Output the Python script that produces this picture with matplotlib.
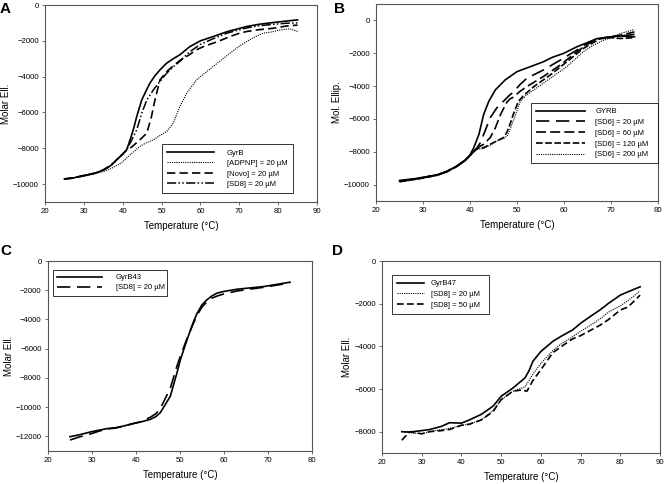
import matplotlib
matplotlib.use("Agg")
import matplotlib.pyplot as plt

plt.rcParams['font.family'] = ['Liberation Sans', 'DejaVu Sans']

# ---------------- Panel A ----------------
a_gyrb_t = [25, 27, 29, 30.7, 33, 35, 37, 38.4, 40, 41, 41.9, 42.8, 43.6, 44.9, 46, 47, 48.3, 49.6, 51.3, 53, 54.7, 57.3, 60, 63.3, 67, 71.9, 75, 78.7, 82, 85]
a_gyrb_v = [-9710, -9680, -9560, -9490, -9380, -9210, -8950, -8650, -8320, -8090, -7530, -6900, -6230, -5300, -4800, -4360, -3950, -3620, -3250, -3000, -2780, -2320, -2000, -1760, -1480, -1200, -1080, -980, -900, -830]
a_adp_t = [25, 27, 29, 31, 33, 35, 37, 39, 40, 41.9, 44.4, 46, 47.9, 49.5, 51.3, 53, 54.7, 56.5, 59, 61, 63.3, 65.5, 67.6, 70, 71.9, 74, 76.2, 78.5, 80.5, 83, 85]
a_adp_v = [-9720, -9650, -9600, -9520, -9420, -9300, -9130, -8900, -8750, -8370, -7900, -7700, -7530, -7300, -7070, -6600, -5670, -4920, -4180, -3820, -3430, -3050, -2690, -2300, -2040, -1780, -1570, -1500, -1390, -1330, -1480]
a_novo_t = [25, 27, 29, 30.7, 33, 35, 37, 38.4, 40, 41, 41.9, 43, 44.4, 46.2, 47.4, 48.3, 49.6, 51.3, 53, 54.7, 57, 59, 61, 63.3, 65.5, 67.6, 70, 71.9, 75, 78.7, 82, 85]
a_novo_v = [-9710, -9650, -9580, -9490, -9380, -9210, -8950, -8650, -8320, -8100, -8000, -7800, -7530, -7160, -6230, -5300, -4180, -3720, -3400, -3100, -2800, -2500, -2300, -2130, -1950, -1760, -1580, -1480, -1380, -1300, -1180, -1120]
a_sd8_t = [25, 27, 29, 30.7, 33, 35, 37, 38.4, 40, 41, 41.9, 43.6, 44.9, 46.2, 47.9, 49.6, 51.3, 53, 54.7, 57, 60, 63.3, 67, 71.9, 75, 78.7, 82, 85]
a_sd8_v = [-9720, -9660, -9580, -9500, -9390, -9220, -8960, -8660, -8330, -8100, -7720, -6970, -6040, -5300, -4740, -4270, -3810, -3450, -3150, -2650, -2200, -1880, -1560, -1280, -1160, -1080, -1020, -1000]

# ---------------- Panel B ----------------
b_gyrb_t = [25, 28, 30, 33, 35, 37, 39, 40, 40.8, 41.9, 42.9, 44, 45.4, 47.5, 50, 53, 55.6, 57.5, 59.9, 62.7, 65, 67, 70, 72, 75]
b_gyrb_v = [-9750, -9650, -9560, -9400, -9200, -8900, -8500, -8200, -7750, -6940, -5730, -4930, -4230, -3620, -3120, -2800, -2520, -2250, -2010, -1610, -1350, -1110, -1000, -950, -1000]
b_s20_t = [25, 28, 30, 33, 35, 37, 39, 40, 41.5, 42.2, 43.2, 44.3, 45.7, 47.1, 48.5, 49.2, 50.6, 52.1, 55.6, 59.2, 62.7, 65, 67, 70, 72, 75]
b_s20_v = [-9780, -9660, -9570, -9410, -9210, -8910, -8510, -8210, -7760, -7450, -6740, -5930, -5330, -4930, -4530, -4380, -3920, -3520, -3020, -2420, -1810, -1400, -1110, -1000, -950, -850]
b_s60_t = [25, 28, 30, 33, 35, 37, 39, 40, 41.5, 42.9, 44.3, 45.4, 46.5, 47.8, 48.5, 49.2, 50.6, 52.1, 55.6, 59.2, 62.7, 65, 67, 70, 72, 75]
b_s60_v = [-9800, -9680, -9580, -9420, -9220, -8920, -8520, -8220, -7780, -7540, -7140, -6540, -5730, -5000, -4780, -4680, -4330, -4030, -3420, -2720, -1910, -1450, -1150, -1000, -900, -700]
b_s120_t = [25, 28, 30, 33, 35, 37, 39, 40, 41.5, 42.9, 44.3, 45.7, 47.1, 47.8, 48.5, 49.2, 50.3, 51.5, 53.6, 57.1, 60.6, 64.1, 67.7, 70, 72, 75]
b_s120_v = [-9820, -9690, -9600, -9430, -9230, -8930, -8530, -8230, -7800, -7750, -7540, -7340, -7140, -6840, -6340, -5730, -4930, -4550, -4030, -3320, -2520, -1710, -1110, -1050, -1100, -1050]
b_s200_t = [25, 28, 30, 33, 35, 37, 39, 40, 41.5, 42.9, 44.3, 45.7, 47.1, 48, 48.7, 49.5, 50.7, 52, 53.6, 57.1, 60.6, 64.1, 66, 68.4, 70, 72, 75]
b_s200_v = [-9850, -9720, -9620, -9450, -9250, -8950, -8550, -8250, -7850, -7800, -7600, -7350, -7200, -7000, -6500, -5900, -4930, -4550, -4230, -3520, -2820, -1910, -1550, -1210, -1050, -800, -550]

# ---------------- Panel C ----------------
c_gyr_t = [25, 27, 29.6, 31.5, 33.4, 35.5, 37.2, 39, 41, 43.2, 44.5, 45.5, 46.5, 47.8, 49.3, 50.1, 51.6, 53, 53.9, 55, 56.1, 57.2, 58.4, 60, 63, 66, 69, 72, 75]
c_gyr_v = [-12020, -11900, -11700, -11580, -11470, -11400, -11290, -11150, -11020, -10840, -10650, -10380, -9900, -9250, -7660, -6750, -5390, -4200, -3570, -3000, -2660, -2400, -2200, -2080, -1930, -1840, -1750, -1600, -1450]
c_sd8_t = [25, 27, 30, 31.5, 33.4, 35.5, 37.2, 39, 41, 43.2, 44.5, 45.5, 46.5, 47.8, 49.3, 50.1, 51.6, 53, 53.9, 55, 56.1, 57.2, 58.4, 60, 63, 66, 69, 72, 75]
c_sd8_v = [-12250, -12050, -11800, -11650, -11500, -11420, -11300, -11150, -11000, -10700, -10450, -10100, -9500, -8700, -7200, -6500, -5300, -4300, -3700, -3150, -2800, -2550, -2400, -2250, -2050, -1920, -1800, -1650, -1500]

# ---------------- Panel D ----------------
d_gyr_t = [25, 27, 30, 32, 35, 37, 40, 42, 45, 48, 50, 53, 56, 57, 58, 60, 63, 65, 68, 70, 73, 75, 77, 80, 82, 85]
d_gyr_v = [-8000, -8020, -7950, -7900, -7750, -7580, -7600, -7450, -7190, -6800, -6340, -5950, -5480, -5150, -4700, -4240, -3770, -3540, -3230, -2920, -2530, -2280, -1990, -1600, -1440, -1210]
d_s20_t = [25, 27, 30, 32, 35, 37, 40, 42, 45, 48, 50, 53, 56, 58, 60, 63, 65, 68, 70, 73, 75, 77, 80, 82, 85]
d_s20_v = [-8000, -8050, -8100, -8000, -7900, -7850, -7700, -7650, -7450, -7000, -6500, -6100, -5900, -5300, -4800, -4200, -3900, -3550, -3300, -2950, -2700, -2400, -2100, -1850, -1400]
d_s50_t = [25, 26, 27, 30, 32, 35, 37, 40, 42, 45, 48, 50, 53, 55, 56.5, 58, 60, 63, 66, 68, 70, 73, 75, 77, 80, 82, 85]
d_s50_v = [-8400, -8200, -8000, -8100, -8000, -7950, -7900, -7700, -7650, -7450, -7050, -6500, -6100, -6050, -6100, -5600, -5100, -4300, -3900, -3650, -3500, -3200, -3000, -2750, -2300, -2150, -1600]

FS_TICK = 5.6
FS_LAB = 7
FS_LEG = 5.5
SPINE = '#555555'


def style(ax, xlim, ylim, yticks, xticks, ylabel):
    ax.set_xlim(*xlim)
    ax.set_ylim(*ylim)
    ax.set_xticks(xticks)
    ax.set_yticks(yticks)
    ax.tick_params(direction='out', length=2.5, width=0.6, labelsize=FS_TICK,
                   top=False, right=False, pad=2, color=SPINE)
    for s in ax.spines.values():
        s.set_color(SPINE)
        s.set_linewidth(0.8)
    ax.set_xlabel('Temperature (\u00b0C)', fontsize=FS_LAB, labelpad=4)
    ax.set_ylabel(ylabel, fontsize=FS_LAB, labelpad=1.5)


def frame(leg):
    leg.get_frame().set_edgecolor('black')
    leg.get_frame().set_linewidth(0.7)


fig = plt.figure(figsize=(6.64, 4.84), dpi=100)
W, H = 664.0, 484.0


def axes_px(l, t, r, b):
    return fig.add_axes([l / W, 1 - b / H, (r - l) / W, (b - t) / H])


solid = dict(color='black', lw=1.2, ls='-')
dot = dict(color='black', lw=0.8, ls=(0, (1, 1)))

# A
axA = axes_px(45, 5, 317, 202)
axA.plot(a_gyrb_t, a_gyrb_v, label='GyrB', **solid)
axA.plot(a_adp_t, a_adp_v, label='[ADPNP] = 20 \u00b5M', **dot)
axA.plot(a_novo_t, a_novo_v, label='[Novo] = 20 \u00b5M', color='black', lw=1.2, ls=(0, (5, 2.5)))
axA.plot(a_sd8_t, a_sd8_v, label='[SD8] = 20 \u00b5M', color='black', lw=1.1, ls=(0, (6, 1.5, 1, 1.5, 1, 1.5)))
style(axA, (20, 90), (-11000, 0), range(-10000, 1, 2000), range(20, 91, 10), 'Molar Ell.')
legA = axA.legend(loc='lower left', bbox_to_anchor=(0.43, 0.046, 0.482, 0), mode='expand',
                  fontsize=FS_LEG, frameon=True, fancybox=False, handlelength=6.2,
                  handletextpad=1.6, labelspacing=0.4, borderpad=0.65, borderaxespad=0)
frame(legA)

# B
axB = axes_px(376, 4, 658, 201)
axB.plot(b_gyrb_t, b_gyrb_v, label='GYRB', **solid)
axB.plot(b_s20_t, b_s20_v, label='[SD6] = 20 \u00b5M', color='black', lw=1.2, ls=(0, (8, 4)))
axB.plot(b_s60_t, b_s60_v, label='[SD6] = 60 \u00b5M', color='black', lw=1.2, ls=(0, (6, 2.5)))
axB.plot(b_s120_t, b_s120_v, label='[SD6] = 120 \u00b5M', color='black', lw=1.2, ls=(0, (4, 1.5)))
axB.plot(b_s200_t, b_s200_v, label='[SD6] = 200 \u00b5M', **dot)
style(axB, (20, 80), (-11000, 1000), range(-10000, 1, 2000), range(20, 81, 10), 'Mol. Ellip.')
legB = axB.legend(loc='lower left', bbox_to_anchor=(0.55, 0.193, 0.45, 0), mode='expand',
                  fontsize=FS_LEG, frameon=True, fancybox=False, handlelength=6.5,
                  handletextpad=1.3, labelspacing=0.45, borderpad=0.6, borderaxespad=0)
frame(legB)

# C
axC = axes_px(48, 261, 312, 451)
axC.plot(c_gyr_t, c_gyr_v, label='GyrB43', **solid)
axC.plot(c_sd8_t, c_sd8_v, label='[SD8] = 20 \u00b5M', color='black', lw=1.2, ls=(0, (8, 4)))
style(axC, (20, 80), (-13000, 0), range(-12000, 1, 2000), range(20, 81, 10), 'Molar Ell.')
legC = axC.legend(loc='upper left', bbox_to_anchor=(0.019, 0.953, 0.43, 0), mode='expand',
                  fontsize=FS_LEG, frameon=True, fancybox=False, handlelength=5.8,
                  handletextpad=1.9, labelspacing=0.35, borderpad=0.55, borderaxespad=0)
frame(legC)

# D
axD = axes_px(382, 261, 660, 453)
axD.plot(d_gyr_t, d_gyr_v, label='GyrB47', **solid)
axD.plot(d_s20_t, d_s20_v, label='[SD8] = 20 \u00b5M', **dot)
axD.plot(d_s50_t, d_s50_v, label='[SD8] = 50 \u00b5M', color='black', lw=1.2, ls=(0, (4, 2)))
style(axD, (20, 90), (-9000, 0), range(-8000, 1, 2000), range(20, 91, 10), 'Molar Ell.')
legD = axD.legend(loc='upper left', bbox_to_anchor=(0.036, 0.927, 0.35, 0), mode='expand',
                  fontsize=FS_LEG, frameon=True, fancybox=False, handlelength=3.5,
                  handletextpad=0.9, labelspacing=0.45, borderpad=0.65, borderaxespad=0)
frame(legD)

for lab, x, y in [('A', 0, 2), ('B', 334, 2), ('C', 0, 244), ('D', 332, 244)]:
    fig.text(x / W, 1 - y / H, lab, fontsize=11, fontweight='bold', ha='left', va='top')

fig.savefig('out.png', dpi=100)
